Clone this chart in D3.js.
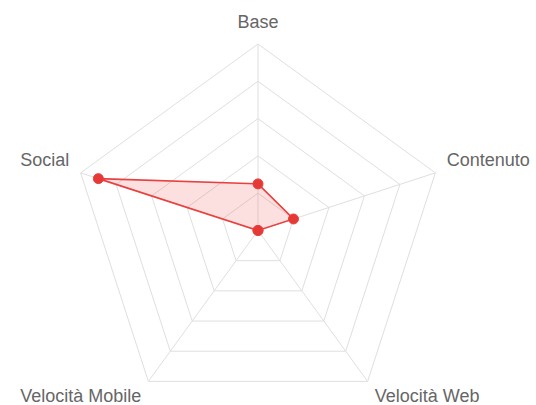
<!DOCTYPE html>
<html>
<head>
<meta charset="utf-8">
<script src="https://cdn.jsdelivr.net/npm/d3@7"></script>
<style>
  html, body { margin: 0; padding: 0; background: #fff; }
  svg { display: block; }
</style>
</head>
<body>
<svg id="chart" width="536" height="405"></svg>
<script>
// Radar axes, clockwise from the top
const axes = ["Base", "Contenuto", "Velocità Web", "Velocità Mobile", "Social"];
// Score per axis
const values = [25, 20, 0, 0, 90];
// Scale range and number of grid rings
const maxValue = 100;
const ringLevels = [20, 40, 60, 80, 100];

const svg = d3.select("#chart");
const cx = 258, cy = 230.5, R = 186.5;

const r = d3.scaleLinear().domain([0, maxValue]).range([0, R]);
const angle = d3.scalePoint().domain(axes).range([0, 2 * Math.PI * (axes.length - 1) / axes.length]);

const pt = (a, rad) => [cx + rad * Math.sin(angle(a)), cy - rad * Math.cos(angle(a))];

const g = svg.append("g");

// Grid rings
g.selectAll("polygon.ring").data(ringLevels).join("polygon")
  .attr("class", "ring")
  .attr("points", lv => axes.map(a => pt(a, r(lv)).join(",")).join(" "))
  .attr("fill", "none")
  .attr("stroke", "#dfdfdf")
  .attr("stroke-width", 1);

// Spokes
g.selectAll("line.spoke").data(axes).join("line")
  .attr("class", "spoke")
  .attr("x1", cx).attr("y1", cy)
  .attr("x2", a => pt(a, R)[0])
  .attr("y2", a => pt(a, R)[1])
  .attr("stroke", "#dfdfdf")
  .attr("stroke-width", 1);

// Data polygon
const line = d3.lineRadial()
  .angle((d, i) => angle(axes[i]))
  .radius(d => r(d))
  .curve(d3.curveLinearClosed);

g.append("path")
  .datum(values)
  .attr("transform", `translate(${cx},${cy})`)
  .attr("d", line)
  .attr("fill", "rgba(240, 80, 80, 0.18)")
  .attr("stroke", "#e8413f")
  .attr("stroke-width", 1.6);

// Data points
g.selectAll("circle.pt").data(values).join("circle")
  .attr("class", "pt")
  .attr("cx", (d, i) => pt(axes[i], r(d))[0])
  .attr("cy", (d, i) => pt(axes[i], r(d))[1])
  .attr("r", 5)
  .attr("fill", "#e53935")
  .attr("stroke", "#e8413f")
  .attr("stroke-width", 1);

// Axis labels placed just beyond the outer ring
g.selectAll("text.lbl").data(axes).join("text")
  .attr("class", "lbl")
  .each(function (a) {
    const [x, y] = pt(a, R + 12);
    const t = d3.select(this);
    const dx = x - cx;
    let anchor = "middle", ty = y;
    if (Math.abs(dx) < 1) { anchor = "middle"; ty = y - 4; }
    else if (dx > 0) { anchor = "start"; }
    else { anchor = "end"; }
    if (Math.abs(dx) >= 1) {
      if (y < cy) ty = y - 3;      // upper side labels
      else ty = y + 11;            // lower labels hang below
    }
    t.attr("x", x).attr("y", ty).attr("text-anchor", anchor);
  })
  .attr("font-family", "Liberation Sans, Arial, Helvetica, sans-serif")
  .attr("font-size", 18)
  .attr("fill", "#666")
  .text(d => d);
</script>
</body>
</html>
